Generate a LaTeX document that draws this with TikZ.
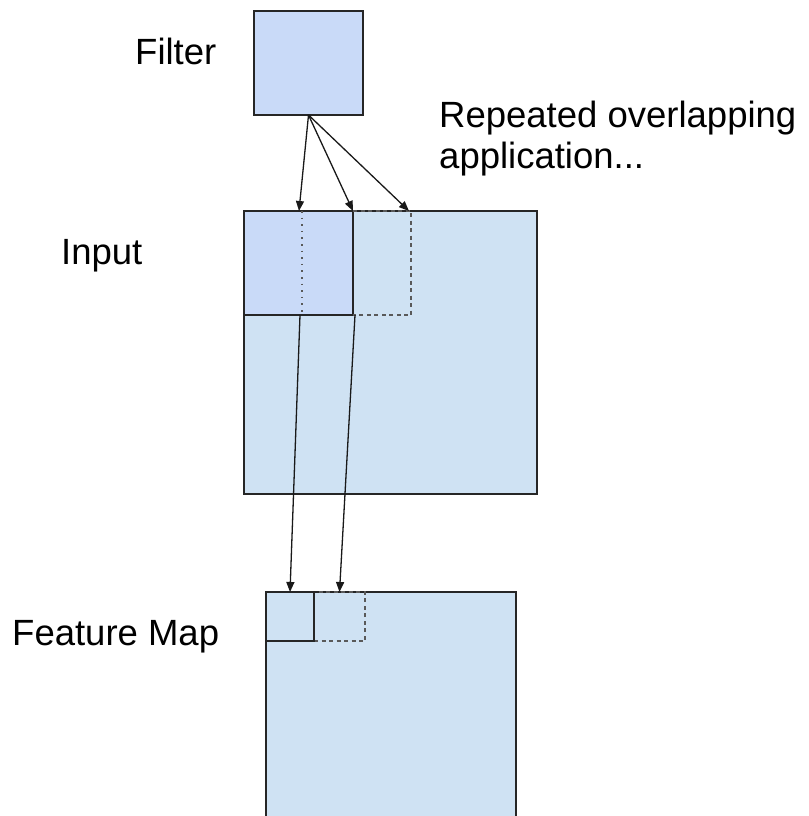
\documentclass[tikz,border=0pt]{standalone}
\usepackage{fontspec}
\setmainfont{Liberation Sans}
\usepackage{tikz}
\usetikzlibrary{positioning}
\usetikzlibrary{arrows.meta}
\definecolor{filterblue}{HTML}{C9DAF8}
\definecolor{inputblue}{HTML}{CFE2F3}

\tikzset{
  rim/.style={draw=black!85, line width=1.5pt},
  box/.style={rim, rectangle, inner sep=0pt, outer sep=0pt, anchor=north west},
  plain/.style={rectangle, inner sep=0pt, outer sep=0pt, anchor=north west},
  txt/.style={anchor=base west, inner sep=0pt, font=\fontsize{36.5}{40}\selectfont},
  arr/.style={-{Triangle[length=10pt,width=8pt]}, line width=1.3pt, black!90},
  dashbox/.style={draw=black!65, line width=1.3pt, dash pattern=on 4pt off 3.5pt},
  dotbox/.style={draw=black!65, line width=1.6pt, dash pattern=on 1.6pt off 5pt},
}

\begin{document}
\begin{tikzpicture}[x=1pt, y=-1pt]
    \useasboundingbox (0,0) rectangle (808,816);

    % Define nodes
    \node[box, fill=filterblue, minimum width=109pt, minimum height=104pt] (filter) at (254,11) {};
    \node[box, fill=inputblue, minimum width=293pt, minimum height=283pt]  (input)  at (244,211) {};
    \node[box, fill=filterblue, minimum width=109pt, minimum height=104pt] (win1)   at (244,211) {};
    \node[plain, minimum width=109pt, minimum height=104pt]                (win2)   at (302,211) {};
    \node[plain, fill=inputblue, minimum width=250pt, minimum height=230pt] (fmap)  at (266,592) {};
    \draw[rim] (fmap.south west) -- (fmap.north west) -- (fmap.north east) -- (fmap.south east);
    \node[box, dashbox, minimum width=51pt, minimum height=49pt] (cell2) at (314,592) {};
    \node[box, minimum width=48pt, minimum height=49pt]          (cell1) at (266,592) {};

    % Labels
    \node[txt] (filterlbl) at (135,65)  {Filter};
    \node[txt] (replbl)    at (439,127) {Repeated overlapping};
    \node[txt] (applbl)    at (439,168) {application...};
    \node[txt] (inputlbl)  at (61,264)  {Input};
    \node[txt] (fmaplbl)   at (12,645)  {Feature Map};

    % Second window
    \draw[dashbox] (win1.north east) -| (win2.south east) -- (win1.south east);
    \draw[dotbox]  (win2.north west) -- (win2.south west);

    % Connect the nodes
    \draw[arr] (filter.south) -- ([xshift=-3pt]win2.north west);
    \draw[arr] (filter.south) -- (win1.north east);
    \draw[arr] (filter.south) -- ([xshift=-2pt]win2.north east);
    \draw[arr] ([xshift=-2pt]win2.south west) -- (cell1.north);
    \draw[arr] ([xshift=2pt]win1.south east) -- (cell2.north);
\end{tikzpicture}
\end{document}
